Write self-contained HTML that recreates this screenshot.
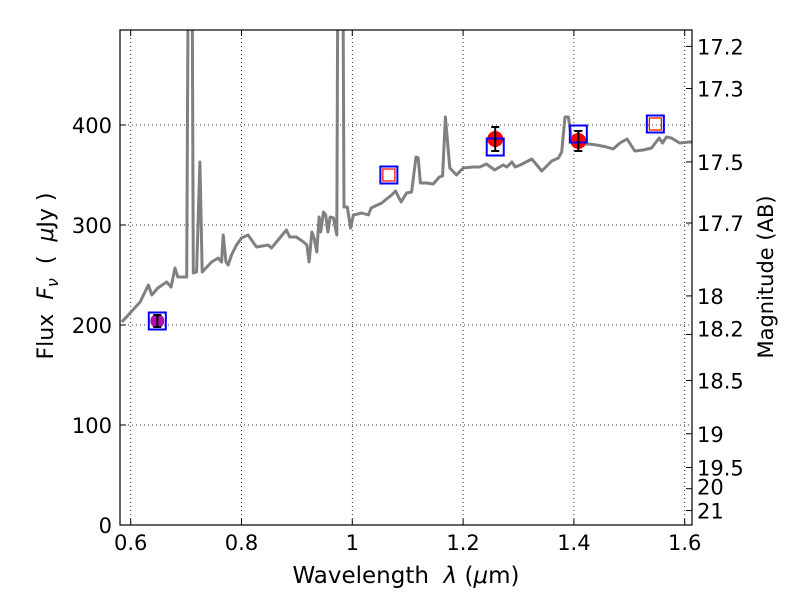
<!DOCTYPE html>
<html><head><meta charset="utf-8">
<style>
html,body{margin:0;padding:0;background:#fff;}
svg{display:block;}
text{font-family:"DejaVu Sans","Liberation Sans",sans-serif;fill:#000;white-space:pre;}
</style></head>
<body>
<svg id="chart" width="800" height="600" xmlns="http://www.w3.org/2000/svg" xml:space="preserve">
<defs><clipPath id="clip"><rect x="120" y="30" width="572" height="495"/></clipPath></defs>
<g id="grid"></g>
<g id="spec" clip-path="url(#clip)"></g>
<g id="marks" clip-path="url(#clip)"></g>
<rect x="120" y="30" width="572" height="495" fill="none" stroke="#000" stroke-width="1.2"/>
<g id="axes"></g>
<text x="406" y="583" font-size="23" text-anchor="middle">Wavelength  <tspan font-style="italic">λ</tspan> (<tspan font-style="italic">μ</tspan>m)</text>
<text transform="translate(53,276) rotate(-90)" font-size="22" text-anchor="middle">Flux  <tspan font-style="italic">F<tspan font-size="16" dy="5">ν</tspan></tspan><tspan dy="-5">  (  </tspan><tspan font-style="italic">μ</tspan>Jy )</text>
<text transform="translate(773,277) rotate(-90)" font-size="21" text-anchor="middle">Magnitude (AB)</text>
</svg>
<script>
const specLambda=[0.584,0.599,0.617,0.632,0.638,0.649,0.665,0.673,0.680,0.685,0.701,0.705,0.710,0.713,0.719,0.725,0.729,0.746,0.758,0.764,0.767,0.772,0.776,0.782,0.791,0.800,0.812,0.827,0.848,0.854,0.866,0.881,0.887,0.899,0.912,0.918,0.922,0.927,0.931,0.936,0.940,0.943,0.948,0.952,0.956,0.960,0.966,0.972,0.975,0.982,0.985,0.991,0.997,1.002,1.017,1.029,1.034,1.053,1.071,1.078,1.088,1.098,1.107,1.115,1.119,1.123,1.134,1.146,1.157,1.163,1.168,1.176,1.188,1.200,1.218,1.230,1.242,1.257,1.272,1.279,1.288,1.294,1.303,1.324,1.333,1.342,1.351,1.360,1.372,1.378,1.384,1.390,1.396,1.411,1.426,1.441,1.459,1.471,1.483,1.496,1.510,1.525,1.540,1.554,1.560,1.567,1.576,1.591,1.609,1.620];
const specFlux=[203,212,223,240,230,237,243,238,257,248,248,700,700,252,253,363,253,263,267,263,290,263,260,270,280,287,290,278,280,277,285,295,288,288,283,280,263,293,287,273,308,293,313,310,293,308,307,290,700,700,318,318,297,310,312,310,317,322,330,334,323,332,333,368,367,342,342,341,348,349,408,357,350,357,358,358,361,355,360,358,363,358,360,366,360,354,359,364,367,373,408,408,385,381,381,380,378,376,382,386,374,375,377,387,382,388,387,382,383,383];
const boxLambda=[0.648,1.066,1.258,1.408,1.547];
const boxFlux=[204,350,378,391,401];
const openLambda=[1.066,1.547];
const openFlux=[350,401];
const detLambda=[1.258,1.408];
const detFlux=[386,384];
const detErr=[12,10];
const purpleLambda=[0.648];
const purpleFlux=[204];
const purpleErr=[6];
const xTicks=[0.6,0.8,1.0,1.2,1.4,1.6];
const xTickLabels=["0.6","0.8","1","1.2","1.4","1.6"];
const yTicks=[0,100,200,300,400];
const magTicks=[17.2,17.3,17.5,17.7,18,18.2,18.5,19,19.5,20,21];

const NS="http://www.w3.org/2000/svg";
const X=l=>130.7+(l-0.6)*554;
const Y=f=>525-f;
const magY=m=>Y(Math.pow(10,(23.9-m)/2.5));
function mk(tag,attrs,parent,txt){const e=document.createElementNS(NS,tag);for(const k in attrs)e.setAttribute(k,attrs[k]);if(txt!==undefined)e.textContent=txt;parent.appendChild(e);return e;}
const grid=document.getElementById('grid'),axes=document.getElementById('axes'),spec=document.getElementById('spec'),marks=document.getElementById('marks');
xTicks.forEach((t,i)=>{const x=X(t);
 let g=mk('line',{x1:x,x2:x,y1:30,y2:525,stroke:'#000','stroke-width':0.8,'stroke-dasharray':'1,3'},grid);
 
 
 mk('line',{x1:x,x2:x,y1:525,y2:519,stroke:'#000'},axes);
 mk('line',{x1:x,x2:x,y1:30,y2:36,stroke:'#000'},axes);
 let tl=mk('text',{x:x,y:550,'font-size':21,'text-anchor':'middle'},axes,xTickLabels[i]);
 
 
});
yTicks.forEach(t=>{const y=Y(t);
 let g=mk('line',{x1:120,x2:692,y1:y,y2:y,stroke:'#000','stroke-width':0.8,'stroke-dasharray':'1,3'},grid);
 
 
 mk('line',{x1:120,x2:126,y1:y,y2:y,stroke:'#000'},axes);
 let tl=mk('text',{x:112,y:y+8,'font-size':21,'text-anchor':'end'},axes,String(t));
 
 
});
magTicks.forEach(m=>{const y=magY(m);
 mk('line',{x1:686,x2:692,y1:y,y2:y,stroke:'#000'},axes);
 let ly=y+8; if(m===18.2) ly-=6; if(m===20) ly-=2;
 let tl=mk('text',{x:697,y:ly,'font-size':21},axes,String(m));
 
 
});
let d=specLambda.map((l,i)=>(i?'L':'M')+X(l).toFixed(1)+','+Y(specFlux[i]).toFixed(1)).join(' ');
let p=mk('path',{d:d,fill:'none',stroke:'#808080','stroke-width':3,'stroke-linejoin':'round'},spec);


purpleLambda.forEach((l,i)=>{const c=mk('circle',{cx:X(l),cy:Y(purpleFlux[i]),r:7,fill:'#b010b0'},marks);
 
 });
detLambda.forEach((l,i)=>{const c=mk('circle',{cx:X(l),cy:Y(detFlux[i]),r:8,fill:'#ff0000'},marks);
 
 });
boxLambda.forEach((l,i)=>{const r=mk('rect',{x:X(l)-8.5,y:Y(boxFlux[i])-8.5,width:17,height:17,fill:'none',stroke:'#0000ff','stroke-width':2},marks);
 
 });
openLambda.forEach((l,i)=>{const r=mk('rect',{x:X(l)-6,y:Y(openFlux[i])-6,width:12,height:12,fill:'none',stroke:'#ff0000','stroke-width':1.2},marks);
 
 });
function errbar(l,f,e){const x=X(l),y1=Y(f+e),y2=Y(f-e);
 const g=mk('g',{stroke:'#000','stroke-width':2},marks);
 
 
 mk('line',{x1:x,x2:x,y1:y1,y2:y2},g);mk('line',{x1:x-4,x2:x+4,y1:y1,y2:y1},g);mk('line',{x1:x-4,x2:x+4,y1:y2,y2:y2},g);}
detLambda.forEach((l,i)=>errbar(l,detFlux[i],detErr[i]));
purpleLambda.forEach((l,i)=>errbar(l,purpleFlux[i],purpleErr[i]));
</script>
</body></html>
